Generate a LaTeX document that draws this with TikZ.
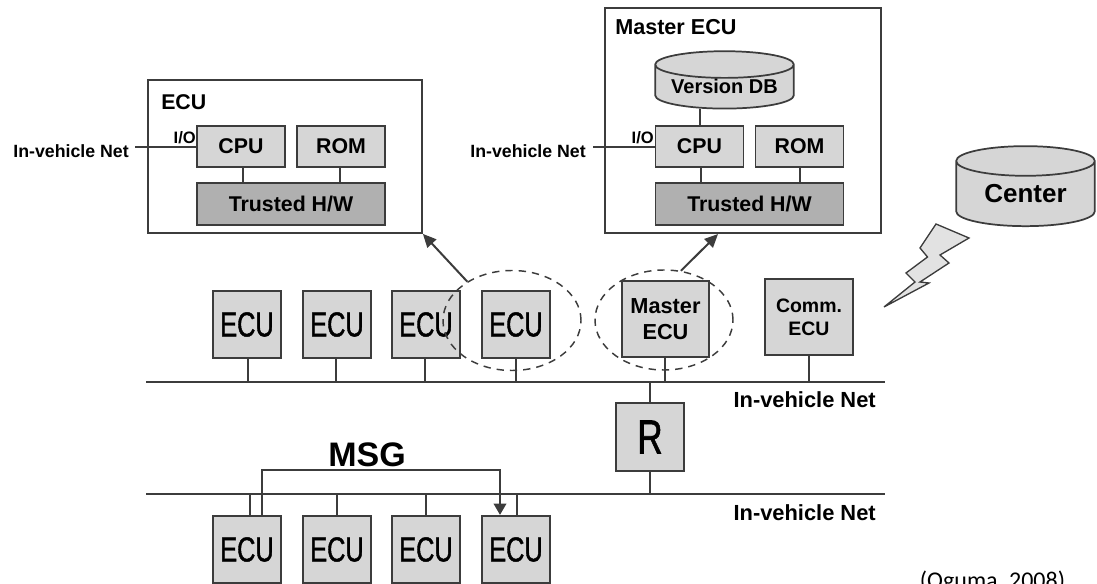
\documentclass[tikz,border=0pt]{standalone}
\usepackage{fontspec}
\setmainfont{Liberation Sans}
\newfontfamily\ecufont[FakeStretch=0.73,FakeBold=1.2]{Liberation Sans}
\newfontfamily\citefont{Carlito}
\usepackage{tikz}
\usetikzlibrary{calc,arrows.meta,shapes.geometric}
\newcommand{\boldsize}[2]{\fontsize{#1}{#2}\selectfont\bfseries}
\definecolor{boxgray}{HTML}{D6D6D6}
\definecolor{hwgray}{HTML}{B0B0B0}
\definecolor{linegray}{HTML}{3C3C3C}
\tikzset{
    wire/.style={draw=linegray, line width=1.3pt},
    panel/.style={draw=linegray, line width=1.3pt, fill=white, inner sep=0pt},
    partbox/.style={draw=linegray, line width=1.3pt, fill=boxgray, inner sep=0pt,
        minimum width=66pt, minimum height=31pt, font=\boldsize{16}{18}},
    hwbox/.style={partbox, fill=hwgray, minimum width=141pt},
    ecubox/.style={draw=linegray, line width=1.4pt, fill=boxgray, inner sep=0pt,
        minimum width=51pt, minimum height=50.5pt, font=\ecufont\fontsize{26}{28}\selectfont},
    drum/.style={cylinder, shape border rotate=90, draw=linegray, line width=1.3pt,
        fill=boxgray, inner sep=0pt},
    ring/.style={ellipse, draw=linegray, line width=1.1pt, dash pattern=on 5.5pt off 4.5pt, inner sep=0pt,
        minimum width=103.5pt, minimum height=75pt},
    netlabel/.style={font=\boldsize{13.3}{15}, inner sep=0pt},
    buslabel/.style={font=\boldsize{16.4}{18}, inner sep=0pt},
}
\begin{document}
\begin{tikzpicture}[x=0.75pt,y=-0.75pt]
    \useasboundingbox (0,0) rectangle (1097,584);

    % ECU detail
    \node[panel, minimum width=205.5pt, minimum height=114.75pt] (ecupanel) at (285,156.5) {};
    \node[partbox] (cpu) at (241,146.5) {CPU};
    \node[partbox] (rom) at (341,146.5) {ROM};
    \node[hwbox] (hw) at (291,204) {Trusted H/W};
    \node[anchor=west, font=\boldsize{16}{18}, inner sep=0pt] (ecutitle) at (161,102) {ECU};
    \node[netlabel, anchor=east] (netleft) at (129,151) {In-vehicle Net};
    \node[font=\boldsize{12.4}{14}, inner sep=0pt, anchor=east] (ioleft) at (196,138) {I/O};
    \coordinate (netleftend) at (135,147);
    \draw[wire] (netleftend) -- (netleftend -| cpu.west);
    \draw[wire] (cpu.south) ++(2,0) coordinate (stub) -- (stub |- hw.north);
    \draw[wire] (rom.south) ++(-1,0) coordinate (stub) -- (stub |- hw.north);

    % Master ECU detail
    \node[panel, minimum width=207pt, minimum height=169pt] (masterpanel) at (743,120.5) {};
    \node[partbox] (mcpu) at (699.5,146.5) {CPU};
    \node[partbox] (mrom) at (799.5,146.5) {ROM};
    \node[hwbox] (mhw) at (749.5,204) {Trusted H/W};
    \node[drum, aspect=0.25, minimum width=104pt, minimum height=42pt, font=\boldsize{15}{17}] (versiondb) at (724.5,87) {\raisebox{1.5pt}{Version DB}};
    \node[anchor=west, font=\boldsize{16.2}{18}, inner sep=0pt] (mastertitle) at (615,27) {Master ECU};
    \node[netlabel, anchor=east] (netmiddle) at (586,151) {In-vehicle Net};
    \node[font=\boldsize{12.4}{14}, inner sep=0pt, anchor=east] (iomiddle) at (654,138) {I/O};
    \coordinate (netmiddleend) at (593,147);
    \draw[wire] (netmiddleend) -- (netmiddleend -| mcpu.west);
    \draw[wire] (mcpu.north) ++(0.5,0) coordinate (stub) -- (stub |- versiondb.south);
    \draw[wire] (mcpu.south) ++(1.5,0) coordinate (stub) -- (stub |- mhw.north);
    \draw[wire] (mrom.south) ++(0.5,0) coordinate (stub) -- (stub |- mhw.north);

    % Center and radio link
    \node[drum, aspect=0.36, minimum width=104pt, minimum height=60pt, font=\boldsize{19.5}{22}] (center) at (1025.5,194) {Center};
    \draw[draw=linegray, line width=1pt, fill=boxgray!70]
        (936,224) -- (969,238) -- (940,255) -- (949,263) -- (920,282) -- (929,283) -- (884,307)
        -- (915,282) -- (906,273) -- (927.5,257) -- (920,248) -- cycle;

    % networks
    \coordinate (upnet) at (146,382);
    \coordinate (upnetend) at (885,382);
    \coordinate (downnet) at (146,494);
    \coordinate (downnetend) at (885,494);
    \draw[wire] (upnet) -- (upnetend);
    \draw[wire] (downnet) -- (downnetend);
    \node[buslabel, anchor=east] (uplabel) at (876,400) {In-vehicle Net};
    \node[buslabel, anchor=east] (downlabel) at (876,513) {In-vehicle Net};

    \foreach \n/\x/\s in {a/247/1,b/337/-1,c/426/-1,d/516/0} {
        \node[ecubox] (ecu\n) at (\x,324.5) {ECU\hspace{3pt}};
        \draw[wire] (ecu\n.south) ++(\s,0) coordinate (stub) -- (stub |- upnet);
    }
    \foreach \n/\x/\s in {e/247/3,f/337/0,g/426/0,h/516/1} {
        \node[ecubox] (ecu\n) at (\x,549.5) {ECU\hspace{3pt}};
        \draw[wire] (ecu\n.north) ++(\s,0) coordinate (stub) -- (stub |- downnet);
    }

    \node[ecubox, font=\boldsize{16.3}{19}, align=center, minimum width=65.25pt, minimum height=57pt] (masterecu) at (665.5,319) {Master\\ECU};
    \node[ecubox, font=\boldsize{14.6}{17.3}, align=center, minimum width=66pt, minimum height=57pt] (commecu) at (809,317) {Comm.\\ECU};
    \node[ecubox, font=\ecufont\fontsize{36}{38}\selectfont] (router) at (650,437) {R\hspace{-4pt}};
    \draw[wire] (masterecu.south) ++(-0.5,0) coordinate (stub) -- (stub |- upnet);
    \draw[wire] (commecu.south) -- (commecu.south |- upnet);
    \draw[wire] (router.north) -- (router.north |- upnet);
    \draw[wire] (router.south) -- (router.south |- downnet);

    % selected ECUs
    \node[ring] (ecuring) at (512,320.5) {};
    \node[ring] (masterring) at (664,320) {};
    \draw[wire, line width=1.5pt, -{Triangle[length=10pt,width=9pt]}] (ecuring.139) -- (ecupanel.south east);
    \draw[wire, line width=1.5pt, -{Triangle[length=10pt,width=9pt]}] (masterring.71) -- ($(masterpanel.south west)!0.41!(masterpanel.south east)$);

    % message
    \draw[wire, -{Triangle[length=8.5pt,width=9.5pt]}] (ecue.north) ++(15,0) -- ++(0,-45) -| ($(ecuh.north)+(-16,0)$);
    \node[font=\boldsize{25.5}{28}, inner sep=0pt] (msg) at (367,455) {MSG};

    \node[font=\citefont\fontsize{18}{20}\selectfont, inner sep=0pt] (cite) at (992.5,582) {(Oguma, 2008)};
\end{tikzpicture}
\end{document}
